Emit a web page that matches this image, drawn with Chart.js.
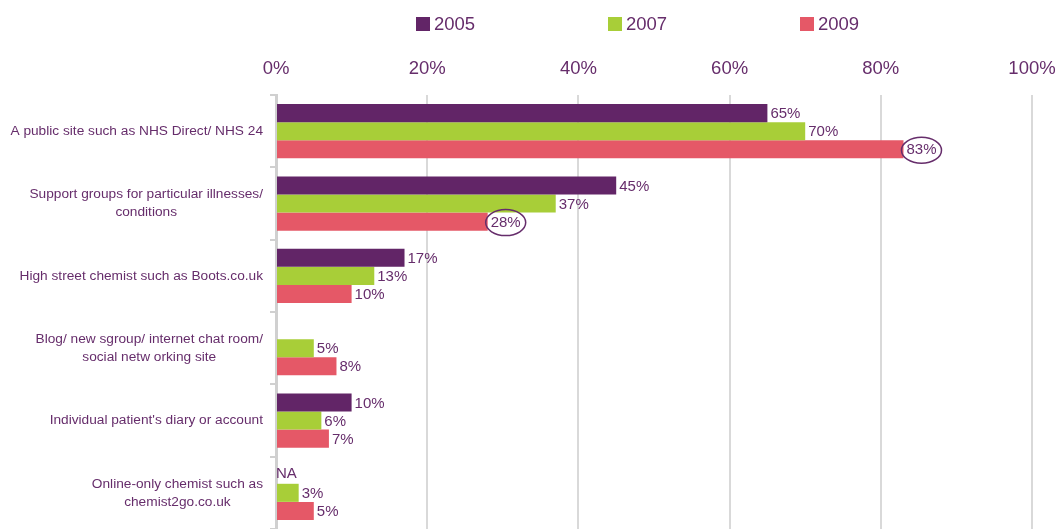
<!DOCTYPE html>
<html>
<head>
<meta charset="utf-8">
<script src="https://cdn.jsdelivr.net/npm/chart.js@4.4.0/dist/chart.umd.min.js"></script>
<style>
    html, body { margin: 0; padding: 0; background: #fff; }
    #wrap { width: 1058px; height: 529px; }
</style>
</head>
<body>
<div id="wrap"><canvas id="chart"></canvas></div>
<script>
let categories = [
    ['A public site such as NHS Direct/ NHS 24'],
    ['Support groups for particular illnesses/', 'conditions'],
    ['High street chemist such as Boots.co.uk'],
    ['Blog/ new sgroup/ internet chat room/', 'social netw orking site'],
    ["Individual patient's diary or account"],
    ['Online-only chemist such as', 'chemist2go.co.uk']
];
let years = ['2005', '2007', '2009'];
let values2005 = [65, 45, 17, null, 10, null];
let values2007 = [70, 37, 13, 5, 6, 3];
let values2009 = [83, 28, 10, 8, 7, 5];
let missingText2005 = ['', '', '', '', '', 'NA'];
let xTicks = [0, 20, 40, 60, 80, 100];
// [dataset, category] pairs that get a ring round the label
let circled = [[2, 0], [2, 1]];

let colors = ['#622567', '#A8CE38', '#E55867'];
let textColor = '#662D6B';
let fontFamily = '"Liberation Sans", Arial, sans-serif';

let valueLabels = {
    id: 'valueLabels',
    afterDatasetsDraw(chart) {
        let ctx = chart.ctx;
        ctx.save();
        ctx.font = '15px ' + fontFamily;
        ctx.fillStyle = textColor;
        ctx.textBaseline = 'middle';
        ctx.textAlign = 'left';
        chart.data.datasets.forEach(function (ds, di) {
            let meta = chart.getDatasetMeta(di);
            meta.data.forEach(function (bar, i) {
                let v = ds.data[i];
                if (v === null) {
                    if (di === 0 && missingText2005[i]) {
                        ctx.fillText(missingText2005[i], chart.chartArea.left, bar.y - 1);
                    }
                    return;
                }
                let txt = v + '%';
                let x = bar.x + 3;
                ctx.fillText(txt, x, bar.y + 1);
                let isCircled = circled.some(c => c[0] === di && c[1] === i);
                if (isCircled) {
                    let w = ctx.measureText(txt).width;
                    ctx.beginPath();
                    ctx.strokeStyle = textColor;
                    ctx.lineWidth = 1.5;
                    ctx.ellipse(x + w / 2, bar.y + 1, w / 2 + 5, 13, 0, 0, Math.PI * 2);
                    ctx.stroke();
                }
            });
        });
        ctx.restore();
    }
};

let sideLabels = {
    id: 'sideLabels',
    afterDraw(chart) {
        let ctx = chart.ctx;
        let yScale = chart.scales.y;
        ctx.save();
        ctx.font = '13.7px ' + fontFamily;
        ctx.fillStyle = textColor;
        ctx.textBaseline = 'middle';
        ctx.textAlign = 'center';
        let right = chart.chartArea.left - 13;
        categories.forEach(function (lines, i) {
            let yc = yScale.getPixelForValue(i);
            let maxW = Math.max(...lines.map(l => ctx.measureText(l).width));
            let cx = right - maxW / 2;
            let lh = 18;
            let y0 = yc - (lines.length - 1) * lh / 2;
            lines.forEach(function (l, k) {
                ctx.fillText(l, cx, y0 + k * lh);
            });
        });

        // legend
        ctx.font = '18.5px ' + fontFamily;
        ctx.textAlign = 'left';
        let lx = chart.chartArea.left + 140;
        years.forEach(function (y, i) {
            ctx.fillStyle = colors[i];
            ctx.fillRect(lx + i * 192, 17, 14, 14);
            ctx.fillStyle = textColor;
            ctx.fillText(y, lx + i * 192 + 18, 25);
        });
        ctx.restore();
    }
};

new Chart(document.getElementById('chart'), {
    type: 'bar',
    data: {
        labels: categories,
        datasets: [
            { label: years[0], data: values2005, backgroundColor: colors[0] },
            { label: years[1], data: values2007, backgroundColor: colors[1] },
            { label: years[2], data: values2009, backgroundColor: colors[2] }
        ]
    },
    options: {
        indexAxis: 'y',
        responsive: true,
        maintainAspectRatio: false,
        animation: false,
        layout: { padding: { right: 26 } },
        datasets: {
            bar: { categoryPercentage: 0.75, barPercentage: 1.0, borderWidth: 0 }
        },
        plugins: {
            legend: { display: false },
            tooltip: { enabled: false }
        },
        scales: {
            x: {
                position: 'top',
                min: 0,
                max: 100,
                afterBuildTicks(scale) {
                    scale.ticks = xTicks.map(v => ({ value: v }));
                },
                afterFit(scale) {
                    scale.height = 95;
                    scale.paddingLeft = 0;
                    scale.paddingRight = 0;
                },
                grid: { color: '#D9D9D9', lineWidth: 2, drawTicks: false },
                border: { display: false },
                ticks: {
                    padding: 15,
                    color: textColor,
                    font: { family: fontFamily, size: 18.5 },
                    callback: v => v + '%'
                }
            },
            y: {
                afterFit(scale) { scale.width = 276; },
                grid: {
                    offset: true,
                    drawOnChartArea: false,
                    color: '#D0D0D0',
                    lineWidth: 2,
                    tickLength: 6
                },
                border: { color: '#D0D0D0', width: 3 },
                ticks: { display: false }
            }
        }
    },
    plugins: [valueLabels, sideLabels]
});
</script>
</body>
</html>
